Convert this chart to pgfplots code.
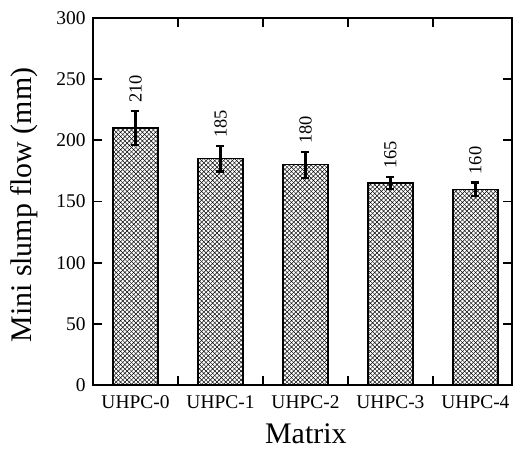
\documentclass[border=0pt]{standalone}
\usepackage{fontspec}
\setmainfont{Liberation Serif}
\usepackage{pgfplots}
\usepackage{pgfplotstable}
\pgfplotsset{compat=1.18}
\usetikzlibrary{patterns}

% diagonal cross hatch, as in the reference
\pgfdeclarepatternformonly{diamondhatch}{\pgfqpoint{-1pt}{-1pt}}{\pgfqpoint{5.5pt}{5.5pt}}{\pgfqpoint{4.4pt}{4.4pt}}{
  \pgfsetlinewidth{0.45pt}
  \pgfpathmoveto{\pgfqpoint{0pt}{0pt}}\pgfpathlineto{\pgfqpoint{4.4pt}{4.4pt}}
  \pgfpathmoveto{\pgfqpoint{0pt}{4.4pt}}\pgfpathlineto{\pgfqpoint{4.4pt}{0pt}}
  \pgfusepath{stroke}
}

\pgfplotstableread{
x y err top
0 210 14 224
1 185 10.5 195.5
2 180 10.5 190.5
3 165 5 170
4 160 5.5 165.5
}\slump

\begin{document}
\begin{tikzpicture}
\begin{axis}[
    scale only axis,
    width=419bp,
    height=367bp,
    xmin=-0.5, xmax=4.43,
    ymin=0, ymax=300,
    ytick={0,50,...,300},
    xtick={0.5,1.5,2.5,3.5},
    xticklabels={},
    extra x ticks={0,1,2,3,4},
    extra x tick labels={UHPC-0,UHPC-1,UHPC-2,UHPC-3,UHPC-4},
    extra x tick style={major tick length=0pt},
    tick align=inside,
    major tick length=9bp,
    tick style={line width=1.8bp, black},
    axis line style={line width=1.8bp},
    /pgf/number format/assume math mode=true,
    ticklabel style={font=\fontsize{19.5}{20}\selectfont},
    xticklabel style={yshift=-7bp},
    yticklabel style={xshift=-4bp},
    xlabel={Matrix},
    ylabel={Mini slump flow (mm)},
    label style={font=\fontsize{30}{30}\selectfont, inner sep=0pt},
    xlabel style={at={(axis description cs:0.508,-0.132)}, anchor=center},
    ylabel style={at={(axis description cs:-0.165,0.49)}, anchor=center, rotate=0},
    clip=false,
]
\coordinate (sw) at (rel axis cs:0,0);
\coordinate (ne) at (rel axis cs:1,1);

\addplot[
    ybar,
    bar width=0.53,
    draw=black,
    line width=1.3bp,
    pattern=diamondhatch,
    error bars/.cd,
    y dir=both,
    y explicit,
    error bar style={line width=2.2bp, black},
    error mark options={rotate=90, mark size=4bp, line width=2.2bp, black},
] table[x=x, y=y, y error=err] {\slump};

% value labels above the error bars
\addplot[
    draw=none,
    mark=none,
    nodes near coords,
    point meta=explicit symbolic,
    nodes near coords style={rotate=90, anchor=west, inner sep=0pt, xshift=8bp, yshift=0bp,
        font=\fontsize{18.5}{18.5}\selectfont},
] table[x=x, y=top, meta=y] {\slump};

\end{axis}
\pgfresetboundingbox
\path[use as bounding box] ([shift={(-93bp,-65bp)}]sw) rectangle ([shift={(1bp,18bp)}]ne);
\end{tikzpicture}
\end{document}
